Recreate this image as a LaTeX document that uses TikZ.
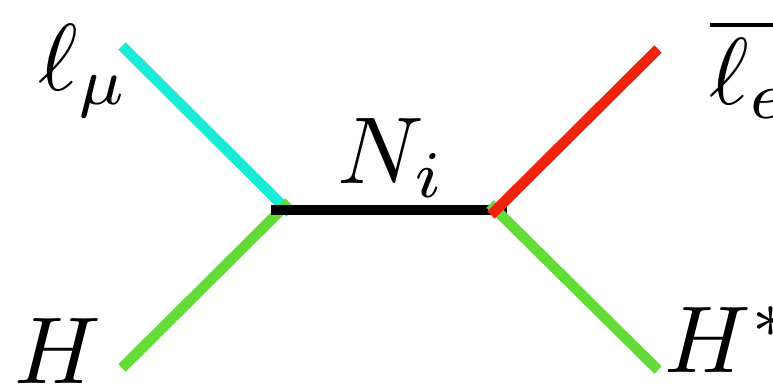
\documentclass[tikz,border=0pt]{standalone}
\usepackage{amsmath}
\usepackage{amssymb}
\usepackage{tikz}
\usetikzlibrary{positioning,calc}
\definecolor{lepmu}{RGB}{25,235,215}
\definecolor{lepe}{RGB}{240,35,15}
\definecolor{higgs}{RGB}{100,220,55}
\tikzset{
  leg/.style={line width=10.5pt},
  lab/.style={scale=9.5, inner sep=0pt, anchor=base west},
}
\begin{document}
\begin{tikzpicture}[x=1pt,y=-1pt]
  \useasboundingbox (0,0) rectangle (773,384);
  % Leg ends
  \coordinate (mu) at (122,46);
  \coordinate (muv) at (290,213);
  \coordinate (hl) at (122,368);
  \coordinate (hlv) at (289,202);
  \coordinate (pl) at (271,210);
  \coordinate (pr) at (507,210);
  \coordinate (el) at (658,49);
  \coordinate (elv) at (491,215);
  \coordinate (hr) at (658,370);
  \coordinate (hrv) at (490,204);

  % Left legs
  \draw[leg, lepmu] (mu) -- (muv);
  \draw[leg, higgs] (hl) -- (hlv);

  % Propagator
  \draw[leg, black] (pl) -- (pr);

  % Right legs
  \draw[leg, higgs] (hr) -- (hrv);
  \draw[leg, lepe] (el) -- (elv);

  % Labels
  \node[lab] (lmu) at (37,90) {$\ell_\mu$};
  \node[lab] (lh) at (13,383) {$H$};
  \node[lab] (ln) at (336,183) {$N_i$};
  \node[lab] (le) at (708,104) {$\overline{\ell_e}$};
  \node[lab] (lhs) at (663,372) {$H^*$};
\end{tikzpicture}
\end{document}
